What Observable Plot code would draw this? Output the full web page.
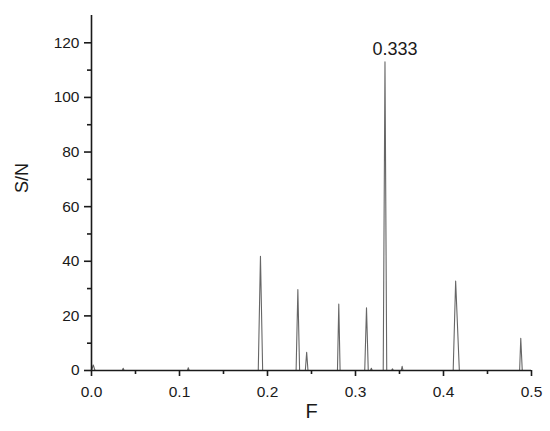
<!DOCTYPE html>
<html>
<head>
<meta charset="utf-8">
<script src="https://cdn.jsdelivr.net/npm/d3@7"></script>
<script src="https://cdn.jsdelivr.net/npm/@observablehq/plot@0.6"></script>
<style>
  html, body { margin: 0; padding: 0; background: #fff; }
</style>
</head>
<body>
<div id="chart"></div>
<script>
// Spectrum: frequency F and signal-to-noise S/N
const freq = [0, 0.002, 0.004, 0.035, 0.036, 0.037, 0.109, 0.110, 0.111,
  0.1895, 0.192, 0.1945, 0.2325, 0.2345, 0.2365, 0.243, 0.2445, 0.246,
  0.2795, 0.281, 0.2825, 0.3105, 0.3125, 0.3145, 0.317, 0.318, 0.319,
  0.3315, 0.3335, 0.3355, 0.341, 0.342, 0.343, 0.352, 0.353, 0.354,
  0.411, 0.4138, 0.418, 0.4865, 0.4878, 0.4895, 0.5];
const sn = [0, 2.0, 0, 0, 0.8, 0, 0, 1.0, 0,
  0, 41.8, 0, 0, 29.6, 0, 0, 6.7, 0,
  0, 24.3, 0, 0, 23.0, 0, 0, 0.8, 0,
  0, 113, 0, 0, 0.6, 0, 0, 1.5, 0,
  0, 32.8, 0, 0, 11.8, 0, 0];

const xTicks = [0, 0.1, 0.2, 0.3, 0.4, 0.5];
const xMinor = [0.05, 0.15, 0.25, 0.35, 0.45];
const yTicks = [0, 20, 40, 60, 80, 100, 120];
const yMinor = [10, 30, 50, 70, 90, 110];

const peakLabelF = [0.3335];
const peakLabelSN = [113];
const peakLabelText = ["0.333"];

const spectrum = freq.map((f, i) => ({f, s: sn[i]}));
const peakLabels = peakLabelF.map((f, i) => ({f, s: peakLabelSN[i], t: peakLabelText[i]}));

const chart = Plot.plot({
  width: 550,
  height: 431,
  marginLeft: 91,
  marginRight: 19,
  marginTop: 15,
  marginBottom: 61,
  style: {fontFamily: "'Liberation Sans', Arial, sans-serif", fontSize: "15px", color: "#1a1a1a", background: "#fff"},
  x: {domain: [0, 0.5]},
  y: {domain: [0, 130]},
  marks: [
    Plot.line(spectrum, {x: "f", y: "s", stroke: "#666", strokeWidth: 1.1}),
    Plot.ruleY([0], {stroke: "#1a1a1a", strokeWidth: 1.6}),
    Plot.ruleX([0], {stroke: "#1a1a1a", strokeWidth: 1.6}),
    Plot.axisX({ticks: xTicks, tickSize: 6, text: null, label: null, strokeWidth: 1.6}),
    Plot.axisX({ticks: xMinor, tickSize: 4, text: null, label: null, strokeWidth: 1.6}),
    Plot.axisY({ticks: yTicks, tickSize: 7, text: null, label: null, strokeWidth: 1.6}),
    Plot.axisY({ticks: yMinor, tickSize: 4, text: null, label: null, strokeWidth: 1.6}),
    Plot.text(xTicks, {x: d => d, frameAnchor: "bottom", dy: 15, lineAnchor: "top", text: d3.format(".1f"), fontSize: 15.5, fill: "#1a1a1a"}),
    Plot.text(yTicks, {y: d => d, frameAnchor: "left", dx: -12, textAnchor: "end", text: d3.format("d"), fontSize: 15.5, fill: "#1a1a1a"}),
    Plot.text(["S/N"], {frameAnchor: "left", rotate: -90, dx: -69, fontSize: 18}),
    Plot.text(["F"], {frameAnchor: "bottom", dy: 47, fontSize: 20}),
    Plot.text(peakLabels, {x: "f", y: "s", text: "t", dx: 10, dy: -13, fontSize: 18})
  ]
});
document.getElementById("chart").appendChild(chart);
</script>
</body>
</html>
